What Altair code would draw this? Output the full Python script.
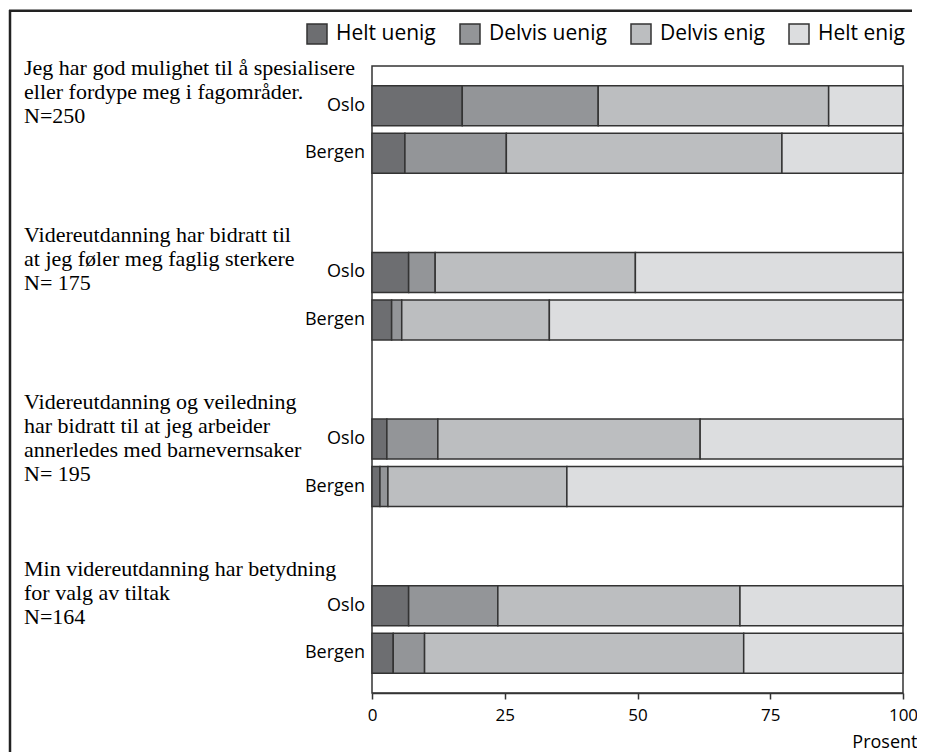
import altair as alt
import pandas as pd

questions = ["q1", "q2", "q3", "q4"]
question_labels = [
    "Jeg har god mulighet til å spesialisere\neller fordype meg i fagområder.\nN=250",
    "Videreutdanning har bidratt til\nat jeg føler meg faglig sterkere\nN= 175",
    "Videreutdanning og veiledning\nhar bidratt til at jeg arbeider\nannerledes med barnevernsaker\nN= 195",
    "Min videreutdanning har betydning\nfor valg av tiltak\nN=164",
]
cities = ["Oslo", "Bergen"]
responses = ["Helt uenig", "Delvis uenig", "Delvis enig", "Helt enig"]
colors = ["#6d6e71", "#939598", "#bcbec0", "#dcdddf"]

# rows: q1 Oslo, q1 Bergen, q2 Oslo, q2 Bergen, ...
helt_uenig = [17.0, 6.2, 6.9, 3.7, 2.8, 1.5, 6.9, 4.0]
delvis_uenig = [25.6, 19.1, 5.0, 1.9, 9.6, 1.5, 16.8, 5.9]
delvis_enig = [43.4, 51.9, 37.7, 27.8, 49.4, 33.7, 45.6, 60.1]
helt_enig = [14.0, 22.8, 50.4, 66.6, 38.2, 63.3, 30.7, 30.0]

series = [helt_uenig, delvis_uenig, delvis_enig, helt_enig]
rows = []
for i in range(8):
    q = questions[i // 2]
    c = cities[i % 2]
    for k, r in enumerate(responses):
        rows.append({"q": q, "city": c, "response": r, "order": k, "value": series[k][i]})
df = pd.DataFrame(rows)
city_df = df[["q", "city"]].drop_duplicates()
q_df = pd.DataFrame({"q": questions, "label": question_labels})
one = pd.DataFrame({"a": [0]})

SANS = "Open Sans"
SERIF = "Liberation Serif"

y_enc = alt.Y("q:N", scale=alt.Scale(domain=questions, paddingInner=0.475, paddingOuter=0.118), axis=None)
yoff = alt.YOffset("city:N", scale=alt.Scale(domain=cities, paddingInner=0.158, paddingOuter=0))

frame_left = alt.Chart(one).mark_rule(stroke="#222222", strokeWidth=2.5).encode(
    x=alt.value(-362), y=alt.value(-56), y2=alt.value(700)
)
frame_top = alt.Chart(one).mark_rect(fill="#222222", strokeWidth=0).encode(
    x=alt.value(-363), x2=alt.value(540), y=alt.value(-56.5), y2=alt.value(-54)
)

bars = alt.Chart(df).mark_bar(stroke="#333333", strokeWidth=1.5).encode(
    x=alt.X(
        "value:Q",
        stack="zero",
        scale=alt.Scale(domain=[0, 100], nice=False),
        axis=alt.Axis(
            values=[0, 25, 50, 75, 100],
            title="Prosent",
            titleAnchor="end",
            titleAlign="right",
            titleX=545,
            titleY=54,
            titleBaseline="alphabetic",
            titleFont=SANS,
            titleFontSize=18,
            titleFontWeight="normal",
            titleColor="black",
            labelFont=SANS,
            labelFontSize=17,
            labelColor="black",
            labelPadding=8,
            labelFlush=False,
            tickSize=6,
            tickColor="#333333",
            tickWidth=1.5,
            domainColor="#333333",
            domainWidth=1.5,
            grid=False,
        ),
    ),
    y=y_enc,
    yOffset=yoff,
    color=alt.Color(
        "response:N",
        scale=alt.Scale(domain=responses, range=colors),
        legend=alt.Legend(
            title=None,
            orient="none",
            direction="horizontal",
            legendX=-66,
            legendY=-43,
            padding=0,
            symbolType="square",
            symbolSize=400,
            symbolStrokeColor="#333333",
            symbolStrokeWidth=1.5,
            symbolOpacity=1,
            labelFont=SANS,
            labelFontSize=21,
            labelColor="black",
            labelOffset=8,
            columnPadding=21,
            labelLimit=300,
        ),
    ),
    order=alt.Order("order:Q"),
)

city_text = alt.Chart(city_df).mark_text(
    align="right", baseline="middle", font=SANS, fontSize=18, color="black"
).encode(x=alt.value(-7), y=y_enc, yOffset=yoff, text="city:N")

q_text = alt.Chart(q_df).mark_text(
    align="left", baseline="middle", font=SERIF, fontSize=22, lineHeight=24,
    lineBreak="\n", dy=-61, color="black"
).encode(x=alt.value(-348), y=y_enc, text="label:N")

chart = alt.layer(frame_left, frame_top, bars, city_text, q_text).properties(
    width=531,
    height=627,
    autosize=alt.AutoSizeParams(type="none"),
    padding={"left": 364, "top": 58, "right": 14, "bottom": 59},
).configure_view(stroke="#333333", strokeWidth=1.5)

chart.save("out.html", embed_options={"renderer": "svg", "actions": False})
